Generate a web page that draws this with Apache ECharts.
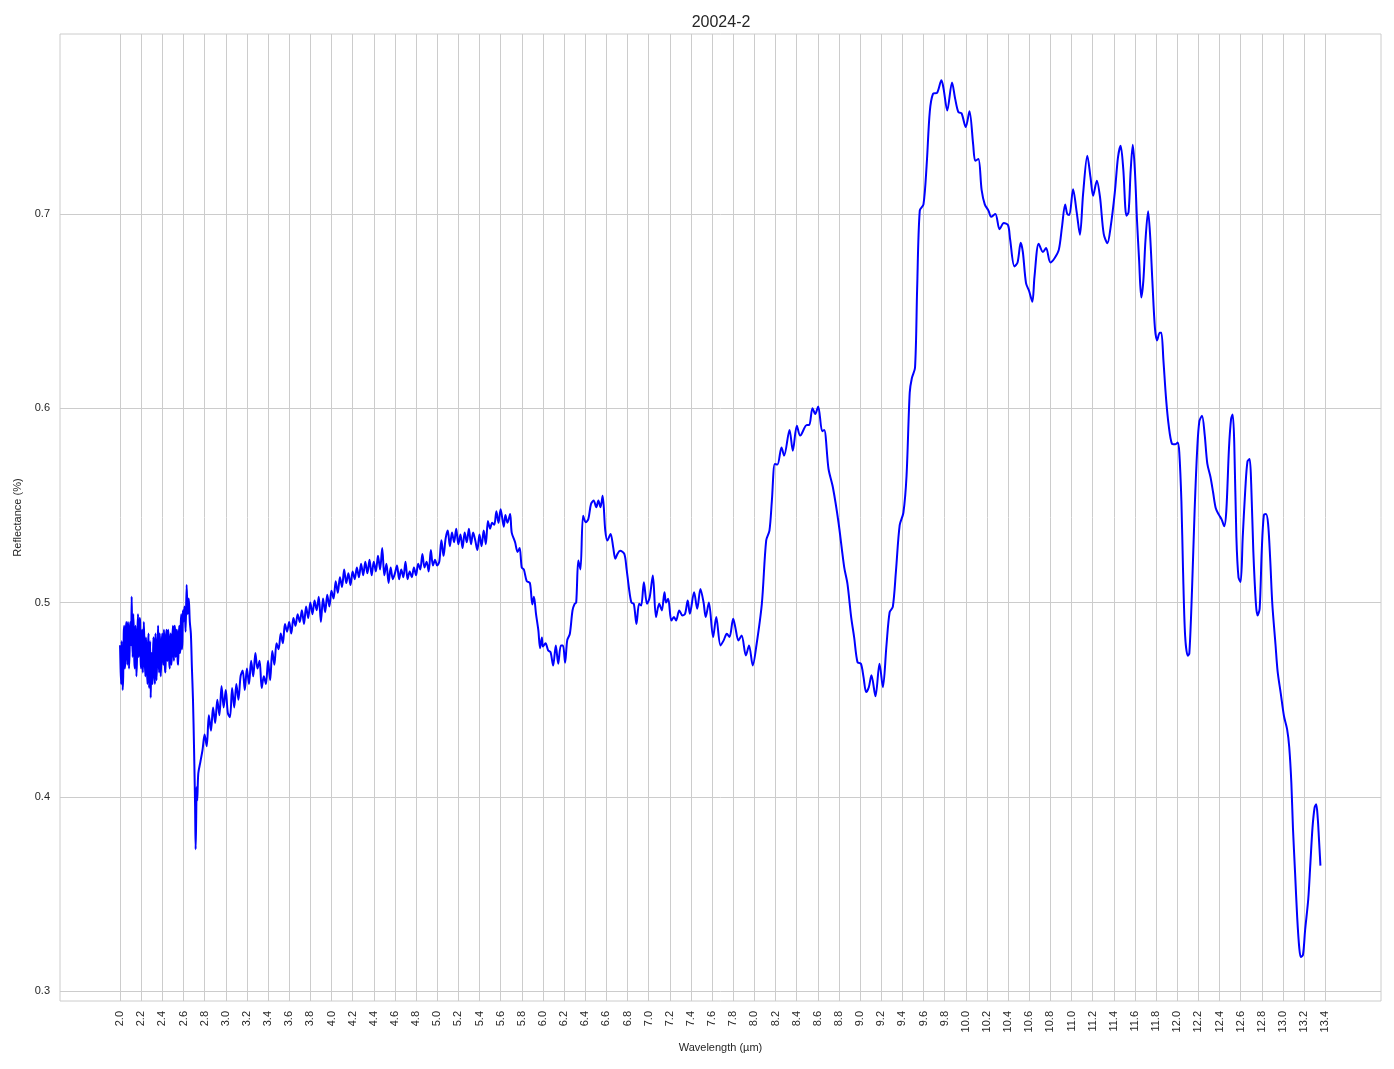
<!DOCTYPE html>
<html>
<head>
<meta charset="utf-8">
<script src="https://cdn.jsdelivr.net/npm/echarts@6/dist/echarts.min.js"></script>
<style>
html,body{margin:0;padding:0;background:#fff;}
#chart{width:1394px;height:1069px;}
</style>
</head>
<body>
<div id="chart"></div>
<script>
const chartTitle = '20024-2';
const xName = 'Wavelength (µm)';
const yName = 'Reflectance (%)';

const xTicks = [2.0,2.2,2.4,2.6,2.8,3.0,3.2,3.4,3.6,3.8,4.0,4.2,4.4,4.6,4.8,5.0,5.2,5.4,5.6,5.8,6.0,6.2,6.4,6.6,6.8,7.0,7.2,7.4,7.6,7.8,8.0,8.2,8.4,8.6,8.8,9.0,9.2,9.4,9.6,9.8,10.0,10.2,10.4,10.6,10.8,11.0,11.2,11.4,11.6,11.8,12.0,12.2,12.4,12.6,12.8,13.0,13.2,13.4];
const yTicks = [0.3,0.4,0.5,0.6,0.7];

// [wavelength, reflectance]
const segNoisyStart = [
[2.00,0.478],[2.01,0.458],[2.02,0.472],[2.03,0.462],[2.04,0.488],[2.05,0.470],[2.06,0.490],[2.07,0.468],[2.08,0.484],[2.09,0.474],
[2.10,0.490],[2.11,0.503],[2.12,0.472],[2.13,0.486],[2.14,0.466],[2.15,0.482],[2.16,0.470],[2.17,0.494],[2.18,0.476],[2.19,0.490],
[2.20,0.466],[2.21,0.486],[2.22,0.472],[2.23,0.480],[2.24,0.462],[2.25,0.476],[2.26,0.458],[2.27,0.484],[2.28,0.466],[2.29,0.451],
[2.30,0.474],[2.31,0.462],[2.32,0.480],[2.33,0.458],[2.34,0.476],[2.35,0.468],[2.36,0.488],[2.37,0.464],[2.38,0.478],[2.39,0.470],
[2.40,0.484],[2.41,0.468],[2.42,0.480],[2.43,0.464],[2.44,0.486],[2.45,0.470],[2.46,0.482],[2.47,0.466],[2.48,0.484],[2.49,0.472],
[2.50,0.488],[2.51,0.470],[2.52,0.486],[2.53,0.474],[2.54,0.484],[2.55,0.468],[2.56,0.488],[2.57,0.476],[2.58,0.494],[2.59,0.480],
[2.60,0.490],[2.61,0.498],[2.62,0.485],[2.63,0.509],[2.64,0.494],[2.65,0.502],[2.66,0.490],[2.67,0.484],[2.68,0.466],[2.69,0.450],
[2.70,0.425],[2.71,0.395],[2.715,0.373],[2.72,0.388],[2.725,0.405],[2.73,0.398]
];

const segNoisyStartHalf = [
[2.005,0.466],[2.015,0.480],[2.025,0.455],[2.035,0.484],[2.045,0.466],[2.055,0.486],[2.065,0.476],[2.075,0.490],[2.085,0.466],[2.095,0.488],
[2.105,0.478],[2.115,0.482],[2.125,0.494],[2.135,0.470],[2.145,0.488],[2.155,0.462],[2.165,0.486],[2.175,0.472],[2.185,0.492],[2.195,0.470],
[2.205,0.482],[2.215,0.464],[2.225,0.490],[2.235,0.468],[2.245,0.482],[2.255,0.464],[2.265,0.478],[2.275,0.456],[2.285,0.480],[2.295,0.470],
[2.305,0.458],[2.315,0.482],[2.325,0.466],[2.335,0.484],[2.345,0.460],[2.355,0.480],[2.365,0.470],[2.375,0.484],[2.385,0.462],[2.395,0.480],
[2.405,0.472],[2.415,0.486],[2.425,0.466],[2.435,0.482],[2.445,0.472],[2.455,0.486],[2.465,0.470],[2.475,0.480],[2.485,0.468],[2.495,0.482],
[2.505,0.476],[2.515,0.488],[2.525,0.472],[2.535,0.486],[2.545,0.470],[2.555,0.482],[2.565,0.474],[2.575,0.490],[2.585,0.476],[2.595,0.496]
];

const segNoisyRise = [
[2.74,0.412],[2.76,0.418],[2.78,0.424],[2.80,0.432],[2.82,0.426],[2.84,0.442],[2.86,0.434],[2.88,0.446],[2.90,0.438],[2.92,0.450],
[2.94,0.442],[2.96,0.457],[2.98,0.446],[3.00,0.455],[3.02,0.443],[3.04,0.441],[3.06,0.456],[3.08,0.446],[3.10,0.458],[3.12,0.450],
[3.14,0.462],[3.16,0.465],[3.18,0.455],[3.20,0.466],[3.22,0.458],[3.24,0.470],[3.26,0.462],[3.28,0.474],[3.30,0.466],[3.32,0.470],
[3.34,0.456],[3.36,0.462],[3.38,0.458],[3.40,0.470],[3.42,0.460],[3.44,0.475],[3.46,0.468],[3.48,0.479],[3.50,0.476],[3.52,0.484],
[3.54,0.479],[3.56,0.489],[3.58,0.485],[3.60,0.490],[3.62,0.484],[3.64,0.492],[3.66,0.488],[3.68,0.494],[3.70,0.490],[3.72,0.496],
[3.74,0.489],[3.76,0.498],[3.78,0.492],[3.80,0.500],[3.82,0.494],[3.84,0.501],[3.86,0.496],[3.88,0.503],[3.90,0.490],[3.92,0.502],
[3.94,0.495],[3.96,0.504],[3.98,0.498],[4.00,0.506],[4.02,0.502],[4.04,0.511],[4.06,0.505],[4.08,0.513],[4.10,0.508],[4.12,0.517],
[4.14,0.510],[4.16,0.515],[4.18,0.509],[4.20,0.516],[4.22,0.512],[4.24,0.518],[4.26,0.513],[4.28,0.520],[4.30,0.514],[4.32,0.521],
[4.34,0.515],[4.36,0.522],[4.38,0.514],[4.40,0.521],[4.42,0.516],[4.44,0.524],[4.46,0.517],[4.48,0.528],[4.50,0.514],[4.52,0.520],
[4.54,0.510],[4.56,0.518],[4.58,0.512],[4.60,0.515],[4.62,0.519],[4.64,0.512],[4.66,0.517],[4.68,0.513],[4.70,0.521],[4.72,0.512],
[4.74,0.516],[4.76,0.513],[4.78,0.518],[4.80,0.514],[4.82,0.520],[4.84,0.517],[4.86,0.525],[4.88,0.518],[4.90,0.521],[4.92,0.516],
[4.94,0.527],[4.96,0.519],[4.98,0.522],[5.00,0.519],[5.02,0.521],[5.04,0.532],[5.06,0.524],[5.08,0.533],[5.10,0.537],[5.12,0.529],
[5.14,0.536],[5.16,0.531],[5.18,0.538],[5.20,0.530],[5.22,0.535],[5.24,0.528],[5.26,0.536],[5.28,0.531],[5.30,0.538],[5.32,0.530],
[5.34,0.536],[5.36,0.532],[5.38,0.527],[5.40,0.535],[5.42,0.529],[5.44,0.537],[5.46,0.530],[5.48,0.542],[5.50,0.538],[5.52,0.541],
[5.54,0.540],[5.56,0.547],[5.58,0.541]
];

const segMid = [
[5.60,0.548],[5.63,0.539],[5.645,0.545],[5.665,0.541],[5.69,0.5456],[5.705,0.536],[5.737,0.531],[5.76,0.526],[5.78,0.528],[5.80,0.518],
[5.82,0.517],[5.847,0.511],[5.877,0.510],[5.90,0.499],[5.915,0.503],[5.935,0.494],[5.957,0.4856],[5.973,0.4765],[5.99,0.482],[6.00,0.4773],
[6.025,0.479],[6.05,0.4753],[6.072,0.4745],[6.097,0.4676],[6.122,0.4779],[6.145,0.4685],[6.17,0.4779],[6.19,0.4779],[6.21,0.469],[6.23,0.4805],
[6.255,0.4839],[6.28,0.4959],[6.30,0.4993],[6.315,0.500],[6.335,0.5216],[6.355,0.517],[6.38,0.5447],[6.405,0.5413],[6.43,0.543],[6.455,0.5507],
[6.48,0.5525],[6.505,0.549],[6.525,0.5525],[6.545,0.549],[6.565,0.555],[6.59,0.537],[6.61,0.5319],[6.64,0.5353],[6.665,0.5284],[6.685,0.5225],
[6.705,0.525],[6.73,0.5267],[6.77,0.525],[6.79,0.518],[6.815,0.507],[6.837,0.500],[6.86,0.4993],[6.885,0.489],[6.91,0.4993],[6.93,0.4985],
[6.955,0.5104],[6.985,0.4993],[7.01,0.5027],[7.04,0.5139],[7.07,0.4925],[7.10,0.4993],[7.125,0.4959],[7.15,0.5053],[7.165,0.500],[7.185,0.5019],
[7.215,0.4907],[7.24,0.4925],[7.26,0.4907],[7.29,0.4959],[7.32,0.4933],[7.345,0.4942],[7.37,0.501],[7.39,0.4942],[7.43,0.5053],[7.46,0.4968],
[7.49,0.507],[7.52,0.500],[7.54,0.4925],[7.57,0.500],[7.61,0.4822],[7.64,0.4925],[7.68,0.4779],[7.71,0.4805],[7.74,0.4839],[7.765,0.4822],
[7.80,0.4916],[7.82,0.4873],[7.85,0.4805],[7.88,0.483],[7.92,0.4727],[7.95,0.4779],[7.985,0.4676],[8.02,0.478]
];

const segPeaks = [
[8.071,0.4993],[8.112,0.5319],[8.143,0.537],[8.166,0.5524],[8.194,0.5713],[8.219,0.571],[8.257,0.5798],[8.282,0.5756],[8.333,0.5888],[8.364,0.5781],
[8.402,0.591],[8.434,0.5859],[8.497,0.5913],[8.519,0.5913],[8.55,0.600],[8.576,0.597],[8.604,0.6009],[8.642,0.5881],[8.661,0.5888],[8.702,0.5687],
[8.743,0.5593],[8.796,0.5413],[8.85,0.5182],[8.881,0.5096],[8.916,0.4925],[8.944,0.4822],[8.976,0.4693],[9.008,0.4685],[9.033,0.4616],[9.058,0.4539],
[9.083,0.4564],[9.108,0.4625],[9.146,0.4517],[9.184,0.4685],[9.216,0.4564],[9.25,0.478],[9.28,0.495],[9.31,0.4977],[9.34,0.5164],[9.375,0.5398],
[9.41,0.5462],[9.44,0.5654],[9.47,0.608],[9.49,0.6154],[9.52,0.6208],[9.54,0.6612],[9.565,0.7017],[9.60,0.7049],[9.63,0.7251],[9.66,0.7528],
[9.69,0.7618],[9.73,0.7624],[9.77,0.7688],[9.79,0.7645],[9.825,0.7532],[9.87,0.7677],[9.90,0.7592],[9.93,0.7524],[9.96,0.7518],[10.00,0.7447],
[10.035,0.7528],[10.07,0.7358],[10.09,0.7273],[10.12,0.7283],[10.15,0.7124],[10.18,0.7049],[10.215,0.7017],[10.24,0.6985],[10.28,0.700],[10.32,0.6921],
[10.36,0.6953],[10.40,0.6942],[10.42,0.6868],[10.46,0.673],[10.49,0.675],[10.52,0.6851],[10.54,0.6804],[10.57,0.6644],[10.60,0.6602],[10.63,0.6548],
[10.65,0.6676],[10.69,0.6847],[10.73,0.6804],[10.76,0.6825],[10.80,0.675],[10.84,0.6772],[10.88,0.6815],[10.91,0.6932],[10.94,0.7049],[10.96,0.700],
[10.98,0.6995],[11.015,0.7127],[11.05,0.7007],[11.08,0.6893],[11.11,0.7103],[11.15,0.730],[11.18,0.7189],[11.205,0.7094],[11.24,0.7171],[11.27,0.7086],
[11.305,0.6897],[11.34,0.6849],[11.37,0.6931],[11.41,0.7111],[11.44,0.7291],[11.465,0.7351],[11.49,0.7231],[11.52,0.6991],[11.54,0.7009],[11.56,0.7223],
[11.58,0.7356],[11.60,0.7223],[11.62,0.6966],[11.64,0.676],[11.66,0.657],[11.68,0.6657],[11.70,0.6863],[11.725,0.7014],[11.745,0.688],[11.765,0.6657]
];

const segTail = [
[11.79,0.6409],[11.81,0.6349],[11.835,0.6389],[11.85,0.6389],[11.87,0.6245],[11.895,0.6048],[11.92,0.591],[11.95,0.5818],[11.98,0.5814],[12.005,0.5823],
[12.02,0.5772],[12.04,0.552],[12.055,0.5175],[12.075,0.483],[12.10,0.4726],[12.115,0.4738],[12.14,0.506],[12.165,0.5474],[12.19,0.5795],[12.21,0.5933],
[12.235,0.5961],[12.26,0.5864],[12.285,0.5715],[12.315,0.5646],[12.34,0.5566],[12.365,0.5485],[12.395,0.5451],[12.42,0.5428],[12.445,0.5393],[12.465,0.5474],
[12.49,0.5795],[12.51,0.5945],[12.525,0.5968],[12.54,0.5818],[12.56,0.5336],[12.58,0.5129],[12.60,0.5106],[12.62,0.5336],[12.645,0.5589],[12.665,0.5726],
[12.685,0.5738],[12.70,0.5612],[12.72,0.5267],[12.745,0.4991],[12.76,0.4933],[12.78,0.4968],[12.80,0.5267],[12.82,0.5451],[12.84,0.5455],[12.86,0.5405],
[12.88,0.5221],[12.90,0.4991],[12.93,0.4784],[12.95,0.4646],[12.98,0.4531],[13.01,0.4416],[13.04,0.4347],[13.06,0.4255],[13.08,0.4071],[13.095,0.3841],
[13.115,0.3611],[13.135,0.3382],[13.155,0.3221],[13.17,0.3175],[13.19,0.3186],[13.21,0.3313],[13.24,0.3474],[13.26,0.3657],[13.28,0.3841],[13.30,0.3945],
[13.315,0.3961],[13.33,0.3887],[13.34,0.3795],[13.355,0.3646]
];

const seriesData = [].concat(segNoisyStart, segNoisyStartHalf, segNoisyRise, segMid, segPeaks, segTail)
  .sort(function (a, b) { return a[0] - b[0]; });

const textColor = '#262626';
const gridColor = '#cccccc';
const fontFamily = '"Liberation Sans", Arial, sans-serif';

const chart = echarts.init(document.getElementById('chart'), null, {renderer: 'canvas'});
chart.setOption({
  animation: false,
  backgroundColor: '#ffffff',
  title: {
    text: chartTitle,
    left: 716,
    top: 10,
    textAlign: 'center',
    textStyle: {fontSize: 16, fontWeight: 'normal', color: textColor, fontFamily: fontFamily}
  },
  grid: {
    left: 60, right: 13, top: 34, bottom: 68,
    show: true, borderColor: gridColor, borderWidth: 1, backgroundColor: '#ffffff',
    containLabel: false
  },
  xAxis: {
    type: 'value',
    min: 1.432, max: 13.928,
    name: xName,
    nameLocation: 'middle',
    nameGap: 41,
    nameTextStyle: {fontSize: 11, color: textColor, fontFamily: fontFamily},
    axisLine: {show: false},
    axisTick: {show: false, customValues: xTicks},
    axisLabel: {
      customValues: xTicks,
      rotate: 90,
      margin: 10,
      fontSize: 11,
      color: textColor,
      fontFamily: fontFamily,
      formatter: function (v) { return Number(v).toFixed(1); }
    },
    splitLine: {show: true, lineStyle: {color: gridColor, width: 1}}
  },
  yAxis: {
    type: 'value',
    min: 0.2949, max: 0.7926,
    name: yName,
    nameLocation: 'middle',
    nameGap: 36,
    nameTextStyle: {fontSize: 11, color: textColor, fontFamily: fontFamily},
    axisLine: {show: false},
    axisTick: {show: false, customValues: yTicks},
    axisLabel: {
      customValues: yTicks,
      margin: 10,
      fontSize: 11,
      color: textColor,
      fontFamily: fontFamily,
      formatter: function (v) { return Number(v).toFixed(1); }
    },
    splitLine: {show: true, lineStyle: {color: gridColor, width: 1}}
  },
  series: [{
    type: 'line',
    data: seriesData,
    showSymbol: false,
    smooth: 0.3,
    lineStyle: {color: '#0000ff', width: 2},
    itemStyle: {color: '#0000ff'}
  }]
});
</script>
</body>
</html>
